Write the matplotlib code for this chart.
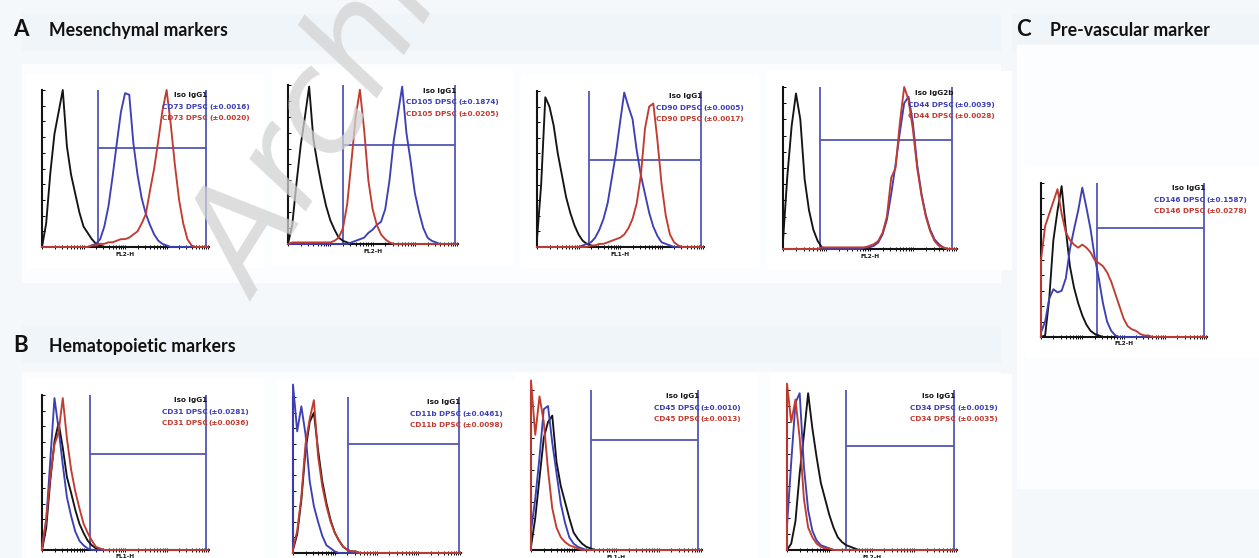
import numpy as np
import matplotlib
matplotlib.use("Agg")
import matplotlib.pyplot as plt
from matplotlib.patches import Rectangle
from matplotlib.ticker import FixedLocator

W, H = 1259, 558
DEC = np.linspace(0, 4, 41)          # log10 channel, 4 decades, 0.1 steps

# ---- histogram heights (% of panel max) ----
#            0.0                          1.0                           2.0                           3.0                        4.0
A1_ISO  = [0, 15, 47, 72, 86, 100, 64, 46, 34, 22, 13, 9, 5, 2, 1, 0, 0, 0, 0, 0, 0, 0, 0, 0, 0, 0, 0, 0, 0, 0, 0, 0, 0, 0, 0, 0, 0, 0, 0, 0, 0]
A1_BLUE = [0, 0, 0, 0, 0, 0, 0, 0, 0, 0, 0, 0, 1, 2, 5, 13, 26, 45, 66, 86, 98, 97, 66, 46, 31, 21, 14, 8, 4, 2, 1, 0, 0, 0, 0, 0, 0, 0, 0, 0, 0]
A1_RED  = [0, 0, 0, 0, 0, 0, 0, 0, 0, 0, 0, 0, 1, 1, 2, 2, 3, 3, 4, 5, 5, 6, 8, 10, 15, 21, 36, 50, 68, 87, 100, 78, 52, 30, 15, 5, 1, 0, 0, 0, 0]

A2_ISO  = [0, 12, 38, 62, 80, 99, 66, 50, 36, 24, 15, 9, 4, 2, 1, 0, 0, 0, 0, 0, 0, 0, 0, 0, 0, 0, 0, 0, 0, 0, 0, 0, 0, 0, 0, 0, 0, 0, 0, 0, 0]
A2_BLUE = [0, 0, 0, 0, 0, 0, 0, 0, 0, 0, 0, 0, 0, 0, 0, 1, 2, 3, 4, 7, 9, 12, 14, 22, 40, 65, 82, 99, 70, 52, 32, 20, 10, 4, 2, 1, 0, 0, 0, 0, 0]
A2_RED  = [0, 1, 1, 1, 1, 1, 1, 1, 1, 1, 1, 2, 4, 10, 25, 52, 80, 97, 72, 40, 22, 12, 6, 3, 1, 0, 0, 0, 0, 0, 0, 0, 0, 0, 0, 0, 0, 0, 0, 0, 0]

A3_ISO  = [5, 40, 96, 90, 78, 60, 46, 32, 22, 14, 8, 4, 2, 1, 0, 0, 0, 0, 0, 0, 0, 0, 0, 0, 0, 0, 0, 0, 0, 0, 0, 0, 0, 0, 0, 0, 0, 0, 0, 0, 0]
A3_BLUE = [0, 0, 0, 0, 0, 0, 0, 0, 0, 0, 0, 1, 2, 3, 6, 11, 18, 28, 44, 60, 80, 99, 90, 82, 62, 46, 34, 22, 13, 7, 3, 2, 1, 0, 0, 0, 0, 0, 0, 0, 0]
A3_RED  = [0, 0, 0, 0, 0, 0, 0, 0, 0, 0, 0, 0, 0, 1, 1, 2, 2, 3, 4, 5, 6, 8, 12, 18, 28, 46, 76, 90, 92, 68, 40, 20, 8, 3, 1, 0, 0, 0, 0, 0, 0]

A4_ISO  = [5, 45, 76, 96, 80, 43, 24, 12, 5, 1, 0, 0, 0, 0, 0, 0, 0, 0, 0, 0, 0, 0, 0, 0, 0, 0, 0, 0, 0, 0, 0, 0, 0, 0, 0, 0, 0, 0, 0, 0, 0]
A4_BLUE = [0, 0, 0, 0, 0, 0, 0, 0, 0, 0, 0, 0, 0, 0, 0, 0, 0, 0, 0, 1, 1, 2, 4, 9, 18, 34, 52, 72, 90, 94, 78, 52, 34, 21, 12, 6, 3, 1, 0, 0, 0]
A4_RED  = [0, 0, 0, 0, 0, 0, 0, 0, 0, 1, 1, 1, 1, 1, 1, 1, 1, 1, 1, 1, 2, 3, 5, 10, 20, 44, 50, 78, 100, 92, 74, 50, 33, 20, 11, 5, 2, 1, 0, 0, 0]

C_ISO   = [0, 1, 25, 63, 82, 98, 70, 46, 32, 22, 14, 8, 4, 2, 1, 0, 0, 0, 0, 0, 0, 0, 0, 0, 0, 0, 0, 0, 0, 0, 0, 0, 0, 0, 0, 0, 0, 0, 0, 0, 0]
C_BLUE  = [3, 10, 25, 31, 29, 30, 38, 57, 70, 82, 97, 84, 70, 52, 38, 22, 10, 4, 1, 0, 0, 0, 0, 0, 0, 0, 0, 0, 0, 0, 0, 0, 0, 0, 0, 0, 0, 0, 0, 0, 0]
C_RED   = [50, 72, 80, 88, 96, 80, 68, 63, 60, 58, 60, 58, 55, 50, 48, 46, 42, 36, 28, 20, 12, 7, 5, 4, 2, 1, 1, 0, 0, 0, 0, 0, 0, 0, 0, 0, 0, 0, 0, 0, 0]

B1_ISO  = [0, 14, 45, 70, 82, 66, 47, 37, 26, 17, 11, 6, 3, 1, 0, 0, 0, 0, 0, 0, 0, 0, 0, 0, 0, 0, 0, 0, 0, 0, 0, 0, 0, 0, 0, 0, 0, 0, 0, 0, 0]
B1_BLUE = [2, 18, 58, 98, 78, 55, 34, 22, 12, 6, 3, 1, 0, 0, 0, 0, 0, 0, 0, 0, 0, 0, 0, 0, 0, 0, 0, 0, 0, 0, 0, 0, 0, 0, 0, 0, 0, 0, 0, 0, 0]
B1_RED  = [1, 20, 47, 68, 76, 98, 72, 52, 38, 27, 17, 11, 6, 2, 1, 0, 0, 0, 0, 0, 0, 0, 0, 0, 0, 0, 0, 0, 0, 0, 0, 0, 0, 0, 0, 0, 0, 0, 0, 0, 0]

B2_ISO  = [2, 12, 34, 66, 84, 90, 66, 46, 32, 21, 13, 8, 4, 2, 1, 1, 0, 0, 0, 0, 0, 0, 0, 0, 0, 0, 0, 0, 0, 0, 0, 0, 0, 0, 0, 0, 0, 0, 0, 0, 0]
B2_BLUE = [108, 78, 94, 76, 46, 30, 20, 11, 5, 3, 1, 0, 0, 0, 0, 0, 0, 0, 0, 0, 0, 0, 0, 0, 0, 0, 0, 0, 0, 0, 0, 0, 0, 0, 0, 0, 0, 0, 0, 0, 0]
B2_RED  = [3, 14, 36, 70, 86, 98, 62, 43, 30, 20, 13, 8, 4, 2, 1, 1, 0, 0, 0, 0, 0, 0, 0, 0, 0, 0, 0, 0, 0, 0, 0, 0, 0, 0, 0, 0, 0, 0, 0, 0, 0]

B3_ISO  = [2, 20, 45, 70, 80, 84, 55, 40, 30, 20, 11, 7, 4, 2, 1, 0, 0, 0, 0, 0, 0, 0, 0, 0, 0, 0, 0, 0, 0, 0, 0, 0, 0, 0, 0, 0, 0, 0, 0, 0, 0]
B3_BLUE = [12, 32, 58, 88, 90, 67, 48, 29, 17, 8, 4, 2, 1, 0, 0, 0, 0, 0, 0, 0, 0, 0, 0, 0, 0, 0, 0, 0, 0, 0, 0, 0, 0, 0, 0, 0, 0, 0, 0, 0, 0]
B3_RED  = [106, 72, 96, 80, 50, 26, 14, 8, 5, 3, 2, 1, 0, 0, 0, 0, 0, 0, 0, 0, 0, 0, 0, 0, 0, 0, 0, 0, 0, 0, 0, 0, 0, 0, 0, 0, 0, 0, 0, 0, 0]

B4_ISO  = [0, 4, 18, 48, 72, 98, 76, 58, 42, 32, 22, 14, 8, 5, 3, 2, 1, 0, 0, 0, 0, 0, 0, 0, 0, 0, 0, 0, 0, 0, 0, 0, 0, 0, 0, 0, 0, 0, 0, 0, 0]
B4_BLUE = [15, 55, 92, 98, 52, 25, 12, 6, 3, 2, 1, 0, 0, 0, 0, 0, 0, 0, 0, 0, 0, 0, 0, 0, 0, 0, 0, 0, 0, 0, 0, 0, 0, 0, 0, 0, 0, 0, 0, 0, 0]
B4_RED  = [104, 80, 94, 70, 32, 14, 8, 4, 2, 1, 1, 0, 0, 0, 0, 0, 0, 0, 0, 0, 0, 0, 0, 0, 0, 0, 0, 0, 0, 0, 0, 0, 0, 0, 0, 0, 0, 0, 0, 0, 0]

MARKERS  = ["CD73", "CD105", "CD90", "CD44", "CD146", "CD31", "CD11b", "CD45", "CD34"]
ISO_LBL  = ["Iso IgG1", "Iso IgG1", "Iso IgG1", "Iso IgG2b", "Iso IgG1", "Iso IgG1", "Iso IgG1", "Iso IgG1", "Iso IgG1"]
SD_BLUE  = ["0.0016", "0.1874", "0.0005", "0.0039", "0.1587", "0.0281", "0.0461", "0.0010", "0.0019"]
SD_RED   = ["0.0020", "0.0205", "0.0017", "0.0028", "0.0278", "0.0036", "0.0098", "0.0013", "0.0035"]
XLABELS  = ["FL2-H", "FL2-H", "FL1-H", "FL2-H", "FL2-H", "FL1-H", "FL1-H", "FL1-H", "FL2-H"]
# marker gate: left decade, right decade, bar height
GATES = [(1.35, 3.95, 63), (1.29, 3.96, 62), (1.25, 3.94, 56), (0.86, 3.90, 67), (1.35, 3.94, 71),
         (1.15, 3.94, 62), (1.32, 3.98, 70), (1.40, 3.92, 69), (1.40, 3.96, 65)]
CURVES = [(A1_ISO, A1_BLUE, A1_RED), (A2_ISO, A2_BLUE, A2_RED), (A3_ISO, A3_BLUE, A3_RED),
          (A4_ISO, A4_BLUE, A4_RED), (C_ISO, C_BLUE, C_RED), (B1_ISO, B1_BLUE, B1_RED),
          (B2_ISO, B2_BLUE, B2_RED), (B3_ISO, B3_BLUE, B3_RED), (B4_ISO, B4_BLUE, B4_RED)]

# axes boxes in image pixels: x0, y0(top), x1, y1(bottom)
BOXES = [(42, 90, 209, 247), (288, 85, 458, 244), (537, 91, 704, 247), (783, 87, 957, 249),
         (1041, 183, 1207, 337), (42, 395, 209, 550), (293, 397, 461, 553), (531, 390, 702, 550),
         (787, 390, 957, 550)]
# white card behind each row / column (image pixels)
CARDS = [(22, 64, 1000, 282), (22, 372, 1000, 558), (1017, 45, 1259, 488)]

BLACK, BLUE, RED, GATE = "#141414", "#3d3fb4", "#c23b30", "#5256b6"
BG = "#f5f8fb"

fig = plt.figure(figsize=(W / 100, H / 100), dpi=100, facecolor=BG)

def px_rect(x0, y0, x1, y1):
    return [x0 / W, 1 - y1 / H, (x1 - x0) / W, (y1 - y0) / H]

for (x0, y0, x1, y1) in [(22, 14, 1000, 50), (22, 326, 1000, 362), (1012, 14, 1259, 50)]:
    fig.patches.append(Rectangle((x0 / W, 1 - y1 / H), (x1 - x0) / W, (y1 - y0) / H,
                                 transform=fig.transFigure, color="#f0f5f9", zorder=-2))
for (x0, y0, x1, y1) in CARDS:
    fig.patches.append(Rectangle((x0 / W, 1 - y1 / H), (x1 - x0) / W, (y1 - y0) / H,
                                 transform=fig.transFigure, color="#fbfdfe", zorder=-1))
for (x0, y0, x1, y1) in BOXES:
    fig.patches.append(Rectangle(((x0 - 16) / W, 1 - (y1 + 20) / H), (x1 - x0 + 70) / W,
                                 (y1 - y0 + 36) / H, transform=fig.transFigure,
                                 color="white", zorder=-1))

log_ticks = [d + np.log10(k) for d in range(4) for k in range(1, 10)] + [4.0]
lfont = dict(fontsize=5.2, fontweight="bold", family="DejaVu Sans")

for i, box in enumerate(BOXES):
    ax = fig.add_axes(px_rect(*box))
    ax.set_facecolor("none")
    iso, blue, red = CURVES[i]
    for vals, col in ((iso, BLACK), (blue, BLUE), (red, RED)):
        ax.plot(np.r_[0, DEC], np.r_[0, vals], color=col, lw=1.35, clip_on=False, zorder=3)
    g0, g1, gh = GATES[i]
    ax.vlines([g0, g1], 0, 100, color=GATE, lw=1.3, zorder=2)
    ax.hlines(gh, g0, g1, color=GATE, lw=1.3, zorder=2)
    ax.set_xlim(0, 4.02)
    ax.set_ylim(0, 100)
    for s in ("top", "right"):
        ax.spines[s].set_visible(False)
    for s in ("left", "bottom"):
        ax.spines[s].set_linewidth(1.5)
        ax.spines[s].set_color(BLACK)
    ax.xaxis.set_major_locator(FixedLocator(log_ticks))
    ax.yaxis.set_major_locator(FixedLocator(list(range(0, 101, 10))))
    ax.tick_params(axis="x", direction="inout", length=2.6, width=0.7, labelbottom=False)
    ax.tick_params(axis="y", direction="in", length=2.4, width=0.7, labelleft=False)
    tr = ax.get_xaxis_transform()
    ax.text(g1 + 0.03, 0.965, ISO_LBL[i], transform=tr, ha="right", va="center", color=BLACK, **lfont)
    ax.text(g1 + 0.04, 0.89, f"{MARKERS[i]} DPSC", transform=tr, ha="right", va="center", color=BLUE, **lfont)
    ax.text(g1 + 0.07, 0.89, f"(\u00b1{SD_BLUE[i]})", transform=tr, ha="left", va="center", color=BLUE, **lfont)
    ax.text(g1 + 0.04, 0.82, f"{MARKERS[i]} DPSC", transform=tr, ha="right", va="center", color=RED, **lfont)
    ax.text(g1 + 0.07, 0.82, f"(\u00b1{SD_RED[i]})", transform=tr, ha="left", va="center", color=RED, **lfont)
    ax.text(0.5, -0.045, XLABELS[i], transform=ax.transAxes, ha="center", va="center",
            color=BLACK, fontsize=4.2, fontweight="bold")

def ftext(x, y, s, **kw):
    fig.text(x / W, 1 - y / H, s, **kw)

hd = dict(family="Lato", fontweight="bold", color="#111111", va="baseline")
ftext(13, 36, "A", fontsize=16, **hd)
ftext(49, 36, "Mesenchymal markers", fontsize=12.8, **hd)
ftext(13, 352, "B", fontsize=16, **hd)
ftext(49, 352, "Hematopoietic markers", fontsize=12.8, **hd)
ftext(1016, 36, "C", fontsize=16, **hd)
ftext(1050, 36, "Pre-vascular marker", fontsize=12.8, **hd)

# faint repository watermark
ftext(258, 302, "Archive", fontsize=100, style="italic", color="#d2d2d2", alpha=0.75,
      rotation=58, rotation_mode="anchor", ha="left", va="baseline", zorder=10,
      family="DejaVu Sans")

fig.savefig("out.png", dpi=100, facecolor=BG)
